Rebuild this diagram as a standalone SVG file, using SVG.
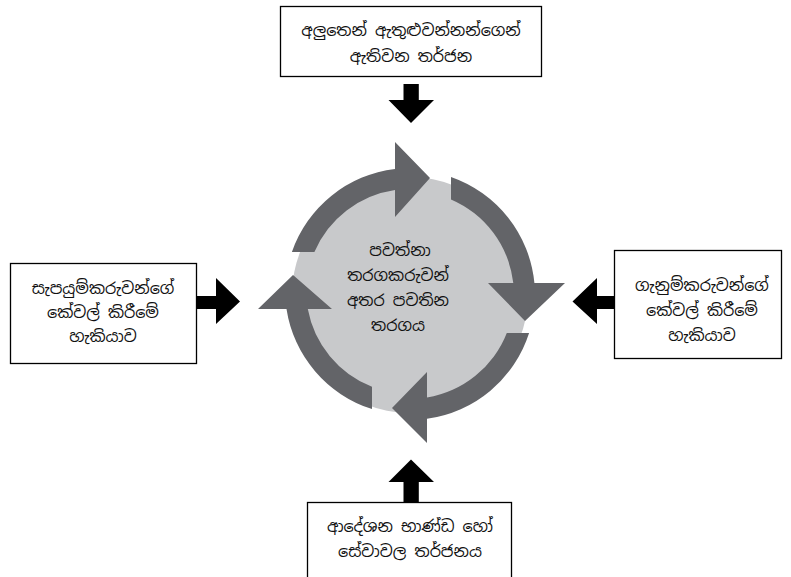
<svg xmlns="http://www.w3.org/2000/svg" width="791" height="577" viewBox="0 0 791 577">
<style>
.box{fill:#fff;stroke:#000;stroke-width:1.3}
.t{font-family:"Noto Sans Sinhala","Iskoola Pota","Noto Sans",sans-serif;font-size:16px;fill:#111;text-anchor:middle}
.blk{fill:#000}
.cyc{fill:#636468}
</style>
<rect width="791" height="577" fill="#fff"/>
<g id="competition">
<circle cx="410" cy="295" r="118" fill="#c8c9cb"/>
<path class="cyc" d="M291.9,252 A125 125 0 0 1 395,168.9 L395,142 L430,178 L395,217 L395,190.1 A104 104 0 0 0 314.4,252 Z"/>
<path class="cyc" d="M451,176.9 A125 125 0 0 1 534.4,283 L565,283 L525,321 L488,283 L513.3,283 A104 104 0 0 0 451,199.4 Z"/>
<path class="cyc" d="M529.1,333 A125 125 0 0 1 427,418.8 L427,443 L392,408 L427,372 L427,397.6 A104 104 0 0 0 506.8,333 Z"/>
<path class="cyc" d="M372,409.1 A125 125 0 0 1 286.5,309 L258,309 L293,275 L332,309 L307.8,309 A104 104 0 0 0 372,386.8 Z"/>
<text class="t" x="400" y="256">පවත්නා</text>
<text class="t" x="398" y="281">තරගකරුවන්</text>
<text class="t" x="398" y="306">අතර පවතින</text>
<text class="t" x="398" y="331">තරගය</text>
</g>
<g id="new-entrants">
<rect class="box" x="280.5" y="6.5" width="261" height="70"/>
<text class="t" x="411" y="36" font-size="17">අලුතෙන් ඇතුළුවන්නන්ගෙන්</text>
<text class="t" x="411" y="62" font-size="17">ඇතිවන තර්ජන</text>
</g>
<g id="suppliers">
<rect class="box" x="10.5" y="263.5" width="186" height="100"/>
<text class="t" x="103" y="294">සැපයුම්කරුවන්ගේ</text>
<text class="t" x="103" y="318">කේවල් කිරීමේ</text>
<text class="t" x="103" y="342">හැකියාව</text>
</g>
<g id="buyers">
<rect class="box" x="614.5" y="250.5" width="167" height="108"/>
<text class="t" x="702" y="291">ගැනුම්කරුවන්ගේ</text>
<text class="t" x="702" y="316">කේවල් කිරීමේ</text>
<text class="t" x="702" y="341">හැකියාව</text>
</g>
<g id="substitutes">
<rect class="box" x="307.5" y="502.5" width="204" height="90"/>
<text class="t" x="410" y="532">ආදේශන භාණ්ඩ හෝ</text>
<text class="t" x="410" y="557">සේවාවල තර්ජනය</text>
</g>
<g id="connectors">
<path class="blk" d="M403.5,84 H418.8 V100 H434 L411,123 L388.5,100 H403.5 Z"/>
<path class="blk" d="M197,296 H216 V278 L240,301.5 L216,324 V309 H197 Z"/>
<path class="blk" d="M614,296 H597 V278 L572.5,301.5 L597,324 V309 H614 Z"/>
<path class="blk" d="M403.5,502 V482 H388.5 L411,459.5 L434,482 H418.8 V502 Z"/>
</g>
</svg>
